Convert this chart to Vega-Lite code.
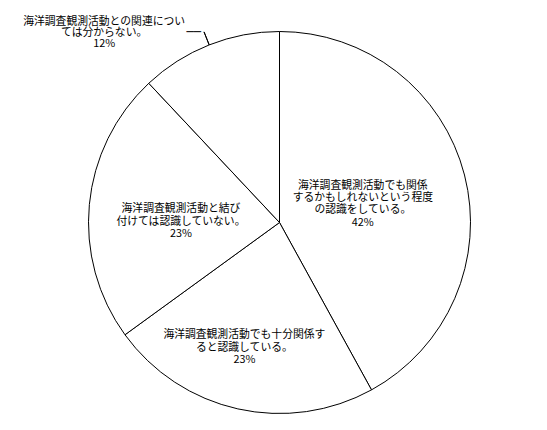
{
  "$schema": "https://vega.github.io/schema/vega-lite/v6.json",
  "width": 535,
  "height": 415,
  "autosize": {"type": "none"},
  "padding": {"left": 12, "right": 0, "top": 15, "bottom": 0},
  "background": "white",
  "data": {
    "values": [
      {"key": "a", "share": 0.42, "label": "海洋調査観測活動でも関係\nするかもしれないという程度\nの認識をしている。\n42%"},
      {"key": "b", "share": 0.23, "label": "海洋調査観測活動でも十分関係す\nると認識している。\n23%"},
      {"key": "c", "share": 0.23, "label": "海洋調査観測活動と結び\n付けては認識していない。\n23%"},
      {"key": "d", "share": 0.12, "label": "海洋調査観測活動との関連につい\nては分からない。\n12%"}
    ]
  },
  "encoding": {
    "theta": {"field": "share", "type": "quantitative", "stack": true},
    "order": {"field": "key", "type": "ordinal", "sort": "ascending"}
  },
  "layer": [
    {
      "mark": {"type": "arc", "radius": 191, "fill": "white", "stroke": "black", "strokeWidth": 1}
    },
    {
      "mark": {"type": "arc", "radius": 205, "radius2": 191, "padAngle": 1, "fill": null, "stroke": "black", "strokeWidth": 1},
      "encoding": {
        "strokeOpacity": {"condition": {"test": "datum.key === 'd'", "value": 1}, "value": 0}
      }
    },
    {
      "mark": {"type": "text", "radius": 205, "align": "right", "baseline": "middle", "dx": -3, "dy": 0, "font": "DejaVu Sans Mono", "fontSize": 12},
      "encoding": {
        "text": {"condition": {"test": "datum.key === 'd'", "value": "──"}, "value": ""}
      }
    },
    {
      "mark": {"type": "text", "radius": 86, "dy": -15.5, "lineBreak": "\n", "lineHeight": 12.3},
      "encoding": {
        "text": {"condition": {"test": "datum.key === 'a'", "field": "label", "type": "nominal"}, "value": ""}
      }
    },
    {
      "mark": {"type": "text", "radius": 129, "dx": -7, "dy": -13, "lineBreak": "\n", "lineHeight": 12.5},
      "encoding": {
        "text": {"condition": {"test": "datum.key === 'b'", "field": "label", "type": "nominal"}, "value": ""}
      }
    },
    {
      "mark": {"type": "text", "radius": 99, "dy": -4, "lineBreak": "\n", "lineHeight": 12.5},
      "encoding": {
        "text": {"condition": {"test": "datum.key === 'c'", "field": "label", "type": "nominal"}, "value": ""}
      }
    },
    {
      "mark": {"type": "text", "radius": 240, "dx": -87, "dy": 23, "lineBreak": "\n", "lineHeight": 11},
      "encoding": {
        "text": {"condition": {"test": "datum.key === 'd'", "field": "label", "type": "nominal"}, "value": ""}
      }
    }
  ],
  "config": {
    "view": {"stroke": null},
    "text": {"font": "Noto Sans CJK JP", "fontSize": 10.8, "color": "black", "align": "center", "baseline": "middle"}
  }
}
